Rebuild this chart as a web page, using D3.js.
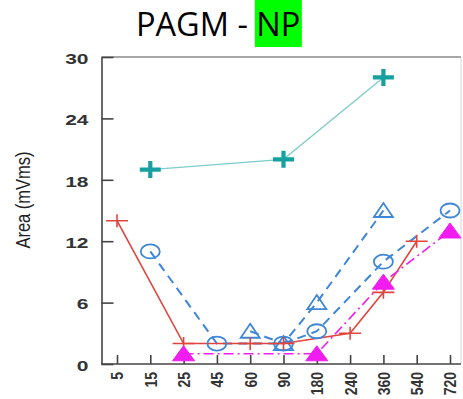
<!DOCTYPE html>
<html><head><meta charset="utf-8">
<script src="https://cdn.jsdelivr.net/npm/d3@7"></script>
<style>body{margin:0;background:#fff}svg{display:block}</style>
</head><body>
<svg id="c" width="463" height="399"></svg>
<script>
const categories = ["5","15","25","45","60","90","180","240","360","540","720"];
const yTicks = [0,6,12,18,24,30];
const tealX = ["15","90","360"], tealY = [19,20,28];
const redX = ["5","25","60","90","240","360","540"], redY = [14,2,2,2,3,7,12];
const circX = ["15","45","90","180","360","720"], circY = [11,2,2,3.2,10,15];
const triX = ["60","90","180","360"], triY = [3.2,2,6,15];
const magX = ["25","180","360","720"], magY = [1,1,8,13];

const svg = d3.select("#c");
const L = 101.5, R = 461, T = 57, B = 364;
const x = d3.scalePoint().domain(categories).range([117, 450]);
const y = d3.scaleLinear().domain([0,30]).range([B, T]);

// title
const tg = svg.append("g");
const title = svg.append("text").attr("x",136).attr("y",36).attr("xml:space","preserve")
  .style("white-space","pre")
  .style("font-family","'Open Sans', sans-serif").style("font-size","32.5px").attr("fill","#000");
title.append("tspan").text("PAGM - ");
title.append("tspan").text("NP");
const tn = title.node();
const full = tn.getComputedTextLength();
const npW = tn.getSubStringLength(7,2);
const npX = 136 + full - npW;
tg.append("rect").attr("x",npX-1.5).attr("y",0).attr("width",npW+3).attr("height",47).attr("fill","#00ff00");

// frame
svg.append("line").attr("x1",L).attr("x2",R).attr("y1",T).attr("y2",T).attr("stroke","#8a8a8a").attr("stroke-width",1.5);
svg.append("line").attr("x1",R).attr("x2",R).attr("y1",T).attr("y2",B).attr("stroke","#d8d8d8").attr("stroke-width",1);

// axes
const yAxis = d3.axisLeft(y).tickValues(yTicks).tickSize(-12).tickPadding(0).tickSizeOuter(0);
const gy = svg.append("g").attr("transform",`translate(${L},0)`).call(yAxis);
gy.select(".domain").attr("stroke","#444").attr("stroke-width",1.6);
gy.selectAll(".tick line").attr("stroke","#444").attr("stroke-width",1.6);
gy.selectAll(".tick text").attr("x",null).attr("dy",null)
  .attr("text-anchor","end").attr("dominant-baseline","central")
  .attr("transform","translate(-13,1) scale(1.4,1)")
  .style("font-family","'Liberation Sans', Arial, sans-serif").style("font-size","15px").style("font-weight","bold").attr("fill","#333");

const xAxis = d3.axisBottom(x).tickSize(-9).tickSizeOuter(0);
const gx = svg.append("g").attr("transform",`translate(0,${B})`).call(xAxis);
gx.select(".domain").attr("d",`M${L},0H${R}`).attr("stroke","#444").attr("stroke-width",1.6);
gx.selectAll(".tick line").attr("stroke","#444").attr("stroke-width",1.6);
gx.selectAll(".tick text").attr("x",null).attr("y",null).attr("dy",null)
  .attr("text-anchor","end").attr("dominant-baseline","central")
  .attr("transform","translate(0,8) scale(1.2,1) rotate(-90)")
  .style("font-family","'Liberation Sans', Arial, sans-serif").style("font-size","14px").style("font-weight","bold").attr("fill","#333");

// y label
svg.append("text").attr("transform","translate(23,200) scale(1.25,1) rotate(-90)")
  .attr("text-anchor","middle").attr("dominant-baseline","central")
  .style("font-family","'Liberation Sans', Arial, sans-serif").style("font-size","16.5px").attr("fill","#222").text("Area (mVms)");

function pts(xs, ys){ return xs.map((c,i)=>[x(c), y(ys[i])]); }
const line = d3.line();
const plot = svg.append("g");

const blue = "#3f86d8";
plot.append("path").attr("d", line(pts(circX,circY))).attr("fill","none").attr("stroke",blue).attr("stroke-width",2).attr("stroke-dasharray","9,6");
plot.append("path").attr("d", line(pts(triX,triY))).attr("fill","none").attr("stroke",blue).attr("stroke-width",2).attr("stroke-dasharray","9,6");
const red = "#e2443c";
plot.append("path").attr("d", line(pts(redX,redY))).attr("fill","none").attr("stroke",red).attr("stroke-width",1.6);
const mag = "#f01cf0";
plot.append("path").attr("d", line(pts(magX,magY))).attr("fill","none").attr("stroke",mag).attr("stroke-width",1.6).attr("stroke-dasharray","10,4,2,4");
const teal = "#17a0a0";
plot.append("path").attr("d", line(pts(tealX,tealY))).attr("fill","none").attr("stroke","#7fcccc").attr("stroke-width",1.3);

pts(circX,circY).forEach(([px,py])=>{
  plot.append("ellipse").attr("cx",px).attr("cy",py).attr("rx",9.5).attr("ry",7).attr("fill","none").attr("stroke",blue).attr("stroke-width",1.8);
});
pts(triX,triY).forEach(([px,py])=>{
  plot.append("path").attr("d",`M${px},${py-7.5}L${px+9.5},${py+6.5}L${px-9.5},${py+6.5}Z`).attr("fill","none").attr("stroke",blue).attr("stroke-width",1.8);
});
pts(redX,redY).forEach(([px,py])=>{
  plot.append("path").attr("d",`M${px-11},${py}H${px+11}M${px},${py-6.5}V${py+6.5}`).attr("stroke",red).attr("stroke-width",1.6);
});
pts(magX,magY).forEach(([px,py])=>{
  plot.append("path").attr("d",`M${px},${py-8}L${px+11},${py+7}L${px-11},${py+7}Z`).attr("fill",mag).attr("stroke",mag).attr("stroke-width",1);
});
pts(tealX,tealY).forEach(([px,py])=>{
  plot.append("path").attr("d",`M${px-10.5},${py}H${px+10.5}M${px},${py-8.5}V${py+8.5}`).attr("stroke",teal).attr("stroke-width",4.2);
});
</script>
</body></html>
